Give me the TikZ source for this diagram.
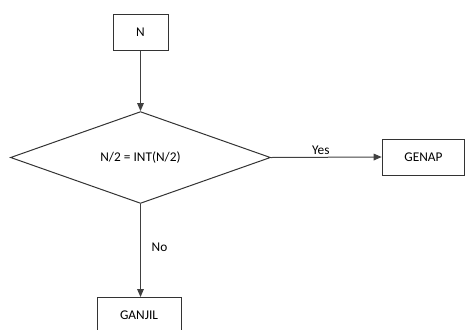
\documentclass[tikz,border=0pt]{standalone}
\usepackage{fontspec}
\setmainfont{Carlito}
\usetikzlibrary{shapes.geometric,arrows.meta}
\begin{document}
\begin{tikzpicture}[x=0.75pt,y=-0.75pt,
  line width=0.75pt,
  every node/.style={font=\fontsize{10pt}{12pt}\selectfont, text=black},
  boxnode/.style={draw=black!80, rectangle, minimum height=27pt, inner sep=0pt},
  decision/.style={draw=black!80, diamond, minimum width=195pt, minimum height=67.5pt, inner sep=0pt},
  conn/.style={draw=black!75, -{Triangle[length=6pt,width=5pt]}},
  lbl/.style={inner sep=1pt}]
\useasboundingbox (0,0) rectangle (466,329);
\clip (0,0) rectangle (466,329);
\node[boxnode, minimum width=41.25pt] (n) at (140.5,32) {N};
\node[decision] (d) at (140.5,157.5) {N/2 = INT(N/2)};
\node[boxnode, minimum width=62pt] (genap) at (423.5,157) {GENAP};
\node[boxnode, minimum width=63pt] (ganjil) at (139,315.5) {GANJIL};
\draw[conn] (n.south) -- (d.north);
\draw[conn] (d.east) -- (genap.west) node[lbl, pos=0.45, above=1pt] {Yes};
\draw[conn] (d.south) -- (d.south |- ganjil.north) node[lbl, pos=0.47, right=7pt] {No};
\end{tikzpicture}
\end{document}
